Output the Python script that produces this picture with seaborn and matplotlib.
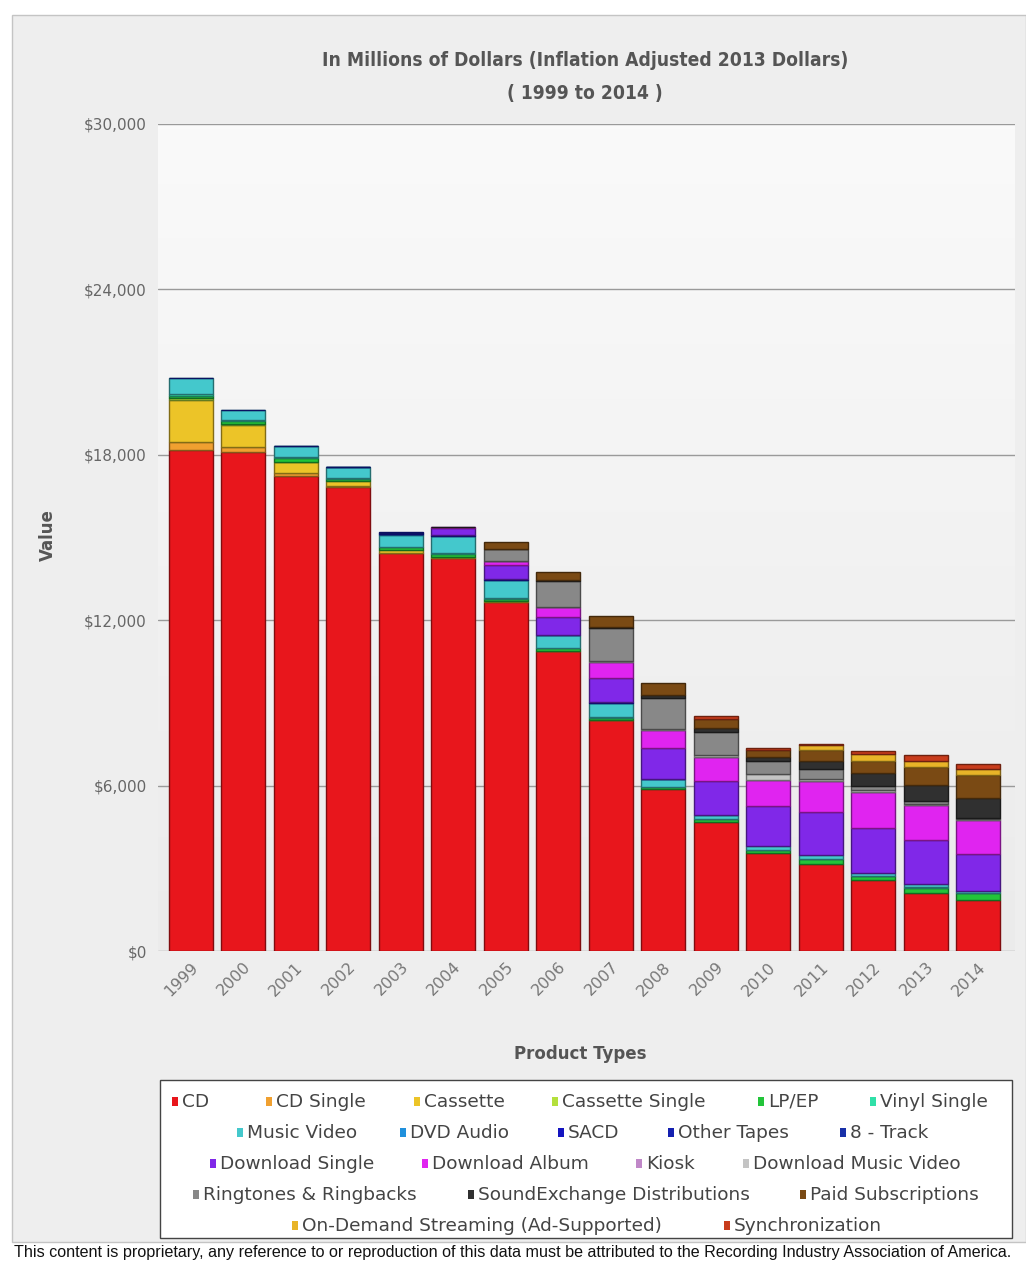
import numpy as np
import pandas as pd
import matplotlib
matplotlib.use("Agg")
import matplotlib.pyplot as plt
import matplotlib.colors as mcolors
import matplotlib.transforms as mtransforms
from matplotlib.patches import Rectangle
import seaborn as sns

# Données (millions de dollars, ajustés 2013)
years = [str(y) for y in range(1999, 2015)]

cd = [18170, 18100, 17230, 16830, 14430, 14250, 12660, 10880, 8380, 5880, 4680, 3550, 3150, 2580, 2100, 1850]
cd_single = [300, 180, 100, 40, 25, 20, 15, 5, 3, 0, 0, 0, 0, 0, 0, 0]
cassette = [1520, 800, 400, 180, 100, 30, 15, 5, 3, 0, 0, 0, 0, 0, 0, 0]
cassette_single = [60, 30, 8, 0, 0, 0, 0, 0, 0, 0, 0, 0, 0, 0, 0, 0]
lp_ep = [100, 100, 150, 70, 90, 110, 90, 90, 80, 70, 110, 120, 180, 140, 200, 240]
vinyl_single = [40, 40, 30, 25, 25, 25, 15, 10, 5, 4, 3, 3, 5, 5, 4, 6]
music_video = [580, 370, 400, 400, 435, 620, 650, 470, 540, 290, 145, 145, 145, 110, 110, 75]
dvd_audio = [0, 0, 8, 10, 10, 8, 15, 5, 3, 2, 1, 0, 0, 0, 0, 0]
sacd = [0, 0, 0, 15, 60, 30, 20, 3, 2, 1, 0, 0, 0, 0, 0, 0]
other_tapes = [20, 10, 5, 5, 30, 5, 0, 0, 0, 0, 0, 0, 0, 0, 0, 0]
eight_track = [0, 0, 0, 0, 0, 0, 0, 0, 0, 0, 0, 0, 0, 0, 0, 0]
download_single = [0, 0, 0, 0, 0, 250, 540, 650, 900, 1120, 1230, 1450, 1560, 1630, 1600, 1340]
download_album = [0, 0, 0, 0, 0, 40, 110, 360, 580, 650, 870, 940, 1125, 1300, 1270, 1230]
kiosk = [0, 0, 0, 0, 0, 0, 2, 2, 3, 3, 5, 6, 2, 2, 2, 2]
download_music_video = [0, 0, 0, 0, 0, 0, 5, 15, 30, 50, 60, 220, 90, 60, 50, 30]
ringtones = [0, 0, 0, 0, 0, 0, 435, 940, 1200, 1120, 830, 470, 360, 145, 110, 50]
soundexchange = [0, 0, 0, 0, 0, 10, 20, 35, 40, 100, 145, 150, 290, 470, 580, 725]
paid_subs = [0, 0, 0, 0, 0, 0, 250, 290, 400, 420, 330, 240, 400, 440, 650, 830]
on_demand = [0, 0, 0, 0, 0, 0, 0, 0, 0, 0, 0, 0, 150, 250, 220, 220]
synchronization = [0, 0, 0, 0, 0, 0, 0, 0, 0, 0, 100, 75, 60, 110, 220, 190]

categories = ["CD", "CD Single", "Cassette", "Cassette Single", "LP/EP", "Vinyl Single",
              "Music Video", "DVD Audio", "SACD", "Other Tapes", "8 - Track",
              "Download Single", "Download Album", "Kiosk", "Download Music Video",
              "Ringtones & Ringbacks", "SoundExchange Distributions", "Paid Subscriptions",
              "On-Demand Streaming (Ad-Supported)", "Synchronization"]
series = [cd, cd_single, cassette, cassette_single, lp_ep, vinyl_single, music_video,
          dvd_audio, sacd, other_tapes, eight_track, download_single, download_album,
          kiosk, download_music_video, ringtones, soundexchange, paid_subs, on_demand,
          synchronization]
colors = ["#e8161c", "#f0a030", "#ecc428", "#b4e03c", "#22c43a", "#30e0a8",
          "#44c8cc", "#2090dc", "#1414c0", "#1420b0", "#1830a8",
          "#8028e8", "#e024f0", "#c088c8", "#c4c4c4",
          "#888888", "#303030", "#7a4a14", "#e8b428", "#c83c1c"]

def darken(c, f=0.55):
    r, g, b = mcolors.to_rgb(c)
    return (r * f, g * f, b * f)

sns.set_style("white")
plt.rcParams['font.family'] = ['DejaVu Sans']

fig = plt.figure(figsize=(10.26, 12.61), dpi=100)
W, H = 1026, 1261

# cadre gris
fig.patches.append(Rectangle((12 / W, 1 - 1242 / H), (W - 12) / W, (1242 - 15) / H,
                             transform=fig.transFigure, facecolor="#eeeeee",
                             edgecolor="#c4c4c4", lw=1, zorder=-5))

ax = fig.add_axes([158 / W, 1 - 951 / H, (1015 - 158) / W, (951 - 124) / H])
ax.set_zorder(2)
ax.set_facecolor("#f4f4f4")

# Barres empilées
bottom = np.zeros(len(years))
for name, vals, col in zip(categories, series, colors):
    vals = np.array(vals, dtype=float)
    mask = vals > 0
    if mask.any():
        df = pd.DataFrame({"annee": np.array(years)[mask], "valeur": vals[mask]})
        sns.barplot(data=df, x="annee", y="valeur", order=years, color=col,
                    saturation=1, width=0.84, errorbar=None, bottom=bottom[mask],
                    edgecolor=darken(col), linewidth=1, ax=ax)
    bottom += vals

# fond dégradé de la zone de tracé (clair en haut, plus gris en bas)
grad = np.linspace(0, 1, 256).reshape(-1, 1)
cmap = mcolors.LinearSegmentedColormap.from_list("fond", ["#fafafa", "#ebebeb"])
ax.imshow(grad, cmap=cmap, aspect="auto", extent=(-0.62, 15.7, 0, 30000),
          origin="upper", zorder=-2, interpolation="bilinear")
ax.set_xlim(-0.62, 15.7)
ax.set_ylim(0, 30000)

yt = np.arange(0, 30001, 6000)
ax.set_yticks(yt)
ax.set_yticklabels([f"${v:,.0f}" for v in yt], color="#666666", fontsize=11)
ax.set_xticks(range(len(years)))
ax.set_xticklabels(years, rotation=45, ha="right", va="top", rotation_mode="anchor",
                   color="#777777", fontsize=11.5)
offset = mtransforms.ScaledTranslation(4 / 100, -4 / 100, fig.dpi_scale_trans)
for lab in ax.get_xticklabels():
    lab.set_transform(lab.get_transform() + offset)
ax.tick_params(axis="both", length=0)
ax.tick_params(axis="y", pad=8)
ax.tick_params(axis="x", pad=6)
ax.set_xlabel("")
ax.set_ylabel("")
ax.yaxis.grid(True, color="#9a9a9a", linewidth=1)
ax.xaxis.grid(False)
ax.set_axisbelow(True)
for s in ax.spines.values():
    s.set_visible(False)

# Titres
fig.text(585 / W, 1 - 60 / H, "In Millions of Dollars (Inflation Adjusted 2013 Dollars)",
         ha="center", va="center", fontsize=13.8, fontweight="bold", color="#555555",
         fontstretch="condensed")
fig.text(585 / W, 1 - 93 / H, "( 1999 to 2014 )", ha="center", va="center",
         fontsize=13.8, fontweight="bold", color="#555555", fontstretch="condensed")
fig.text(48 / W, 1 - 535 / H, "Value", rotation=90, ha="center", va="center",
         fontsize=12, fontweight="bold", color="#555555")
fig.text(580 / W, 1 - 1054 / H, "Product Types", ha="center", va="center",
         fontsize=12, fontweight="bold", color="#555555")

# Légende
fig.patches.append(Rectangle((160 / W, 1 - 1238 / H), (1012 - 160) / W, (1238 - 1080) / H,
                             transform=fig.transFigure, facecolor="white",
                             edgecolor="#444444", lw=1, zorder=1))
rows = [(1102, [182, 276, 424, 562, 768, 880]),
        (1133, [247, 410, 568, 678, 850]),
        (1164, [220, 432, 646, 753]),
        (1195, [203, 478, 810]),
        (1226, [302, 734])]
k = 0
for y, xs in rows:
    for x in xs:
        fig.patches.append(Rectangle(((x - 10) / W, 1 - (y + 4) / H), 6 / W, 9 / H,
                                     transform=fig.transFigure, facecolor=colors[k],
                                     edgecolor="none", zorder=2))
        fig.text(x / W, 1 - y / H, categories[k], ha="left", va="center",
                 fontsize=13.3, color="#444444", zorder=3)
        k += 1

fig.text(0.5, 1 - 1252 / H,
         "This content is proprietary, any reference to or reproduction of this data must be "
         "attributed to the Recording Industry Association of America.",
         ha="center", va="center", fontsize=11.6, family="Liberation Sans", color="#111111")

fig.savefig("out.png", dpi=100, facecolor="white")
